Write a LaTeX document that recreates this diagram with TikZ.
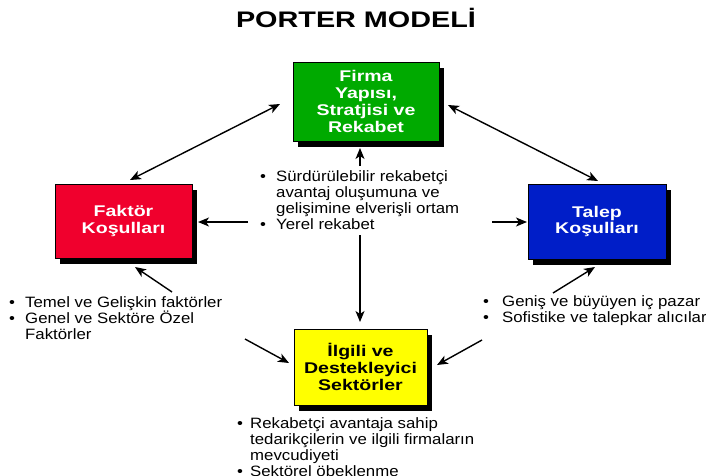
\documentclass[tikz,border=0pt]{standalone}
\usepackage{fontspec}
\setmainfont{Liberation Sans}[FakeStretch=1.12]
\newfontfamily\boxfont{Liberation Sans}[FakeStretch=1.26]
\newfontfamily\titlefont{Liberation Sans}[FakeStretch=1.28]
\usetikzlibrary{arrows.meta,shadows}
\definecolor{fgreen}{RGB}{0,170,0}
\definecolor{fred}{RGB}{240,0,45}
\definecolor{fblue}{RGB}{0,30,200}
\definecolor{fyellow}{RGB}{255,255,0}
\newcommand\bul[1]{\makebox[#1][l]{•}}
\newcommand\ind[1]{\hspace*{#1}}
\begin{document}
\begin{tikzpicture}[x=1pt,y=-1pt,
  box/.style={rectangle, draw=black, line width=0.6pt, inner sep=0pt,
    align=center, font=\boxfont\bfseries\fontsize{15.5}{16.7}\selectfont,
    drop shadow={shadow xshift=5pt, shadow yshift=-6pt, opacity=1, fill=black}},
  txt/.style={inner sep=0pt, align=left, anchor=north west,
    font=\fontsize{15}{16}\selectfont},
  arr/.style={-{Stealth[length=11pt,width=9pt,inset=3pt]}, line width=1.4pt},
  darr/.style={{Stealth[length=11pt,width=9pt,inset=3pt]}-{Stealth[length=11pt,width=9pt,inset=3pt]}, line width=1.4pt}]
\useasboundingbox (0,0) rectangle (706,475);

\node[anchor=base, inner sep=0pt, font=\titlefont\bfseries\fontsize{22.5}{24}\selectfont] (title) at (356,27) {PORTER MODELİ};

\node[box, fill=fgreen, text=white, minimum width=146pt, minimum height=79pt] (firma) at (366,101.5) {Firma\\Yapısı,\\Stratjisi ve\\Rekabet};
\node[box, fill=fred, text=white, minimum width=137pt, minimum height=74pt] (faktor) at (123.5,221) {Faktör\\Koşulları};
\node[box, fill=fblue, text=white, minimum width=138pt, minimum height=75pt] (talep) at (597,221.5) {Talep\\Koşulları};
\node[box, fill=fyellow, text=black, minimum width=133pt, minimum height=76pt] (ilgili) at (360.5,367) {İlgili ve\\Destekleyici\\Sektörler};

\node[txt] (ctext) at (260,170) {\bul{16pt}Sürdürülebilir rekabetçi\\\ind{16pt}avantaj oluşumuna ve\\\ind{16pt}gelişimine elverişli ortam\\\bul{16pt}Yerel rekabet};
\node[txt] (ltext) at (9,296) {\bul{16pt}Temel ve Gelişkin faktörler\\\bul{16pt}Genel ve Sektöre Özel\\\ind{16pt}Faktörler};
\node[txt] (rtext) at (483,295) {\bul{19pt}Geniş ve büyüyen iç pazar\\\bul{19pt}Sofistike ve talepkar alıcılar};
\node[txt] (btext) at (237,417) {\bul{13pt}Rekabetçi avantaja sahip\\\ind{13pt}tedarikçilerin ve ilgili firmaların\\\ind{13pt}mevcudiyeti\\\bul{13pt}Sektörel öbeklenme};

\coordinate (a1) at (130,180);
\coordinate (a2) at (280,104);
\coordinate (b1) at (448,105);
\coordinate (b2) at (598,181);
\coordinate (c1) at (360,166);
\coordinate (c2) at (360,148);
\coordinate (l1) at (248,222);
\coordinate (l2) at (198,222);
\coordinate (r1) at (492,222);
\coordinate (r2) at (527,222);
\coordinate (d1) at (360,235);
\coordinate (d2) at (360,322);
\coordinate (e1) at (172,292);
\coordinate (e2) at (135,267);
\coordinate (f1) at (245,339);
\coordinate (f2) at (289,363);
\coordinate (g1) at (553,293);
\coordinate (g2) at (595,267);
\coordinate (h1) at (482,340);
\coordinate (h2) at (437,365);

\draw[darr] (a1) -- (a2);
\draw[darr] (b1) -- (b2);
\draw[arr] (c1) -- (c2);
\draw[arr] (l1) -- (l2);
\draw[arr] (r1) -- (r2);
\draw[arr] (d1) -- (d2);
\draw[arr] (e1) -- (e2);
\draw[arr] (f1) -- (f2);
\draw[arr] (g1) -- (g2);
\draw[arr] (h1) -- (h2);
\end{tikzpicture}
\end{document}
